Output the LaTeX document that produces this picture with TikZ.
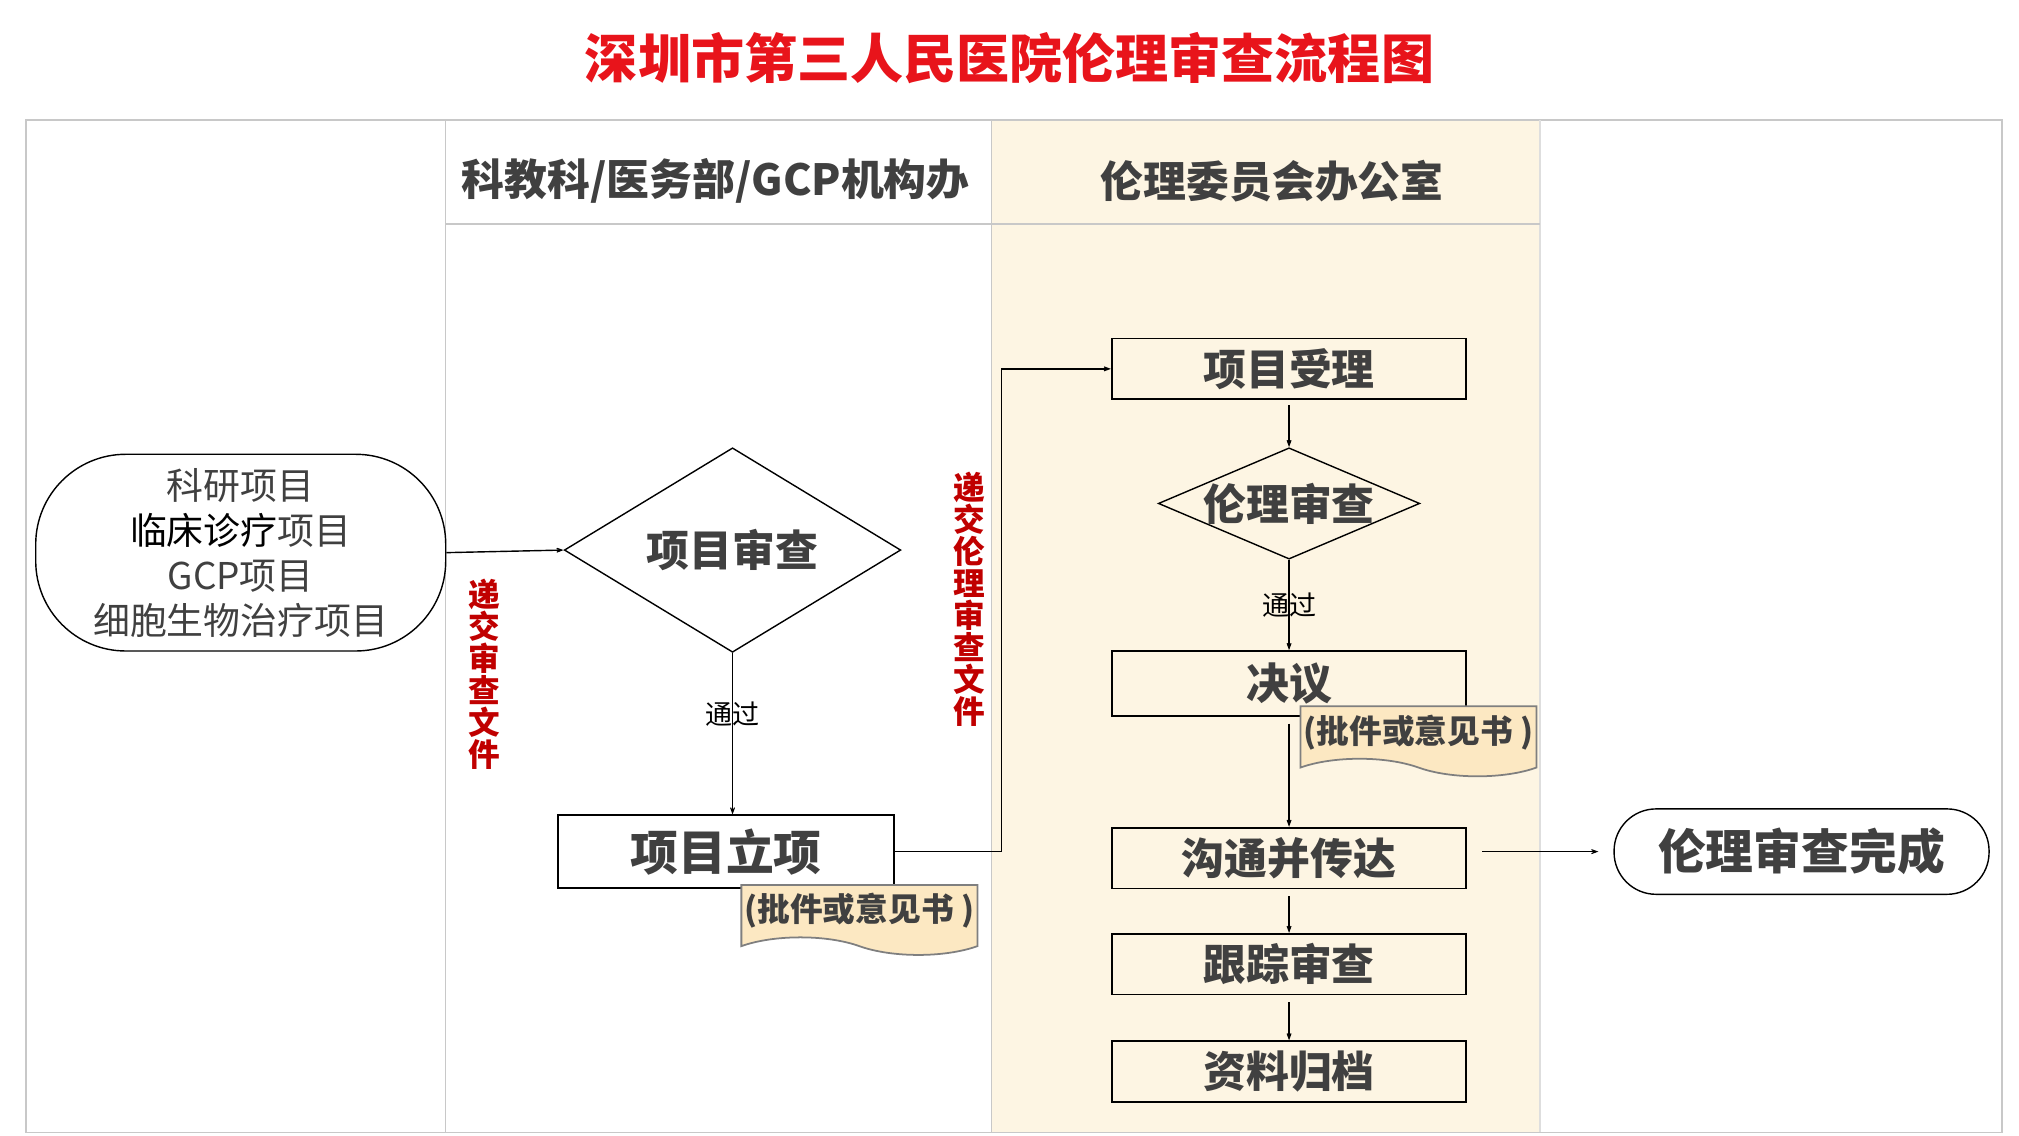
\documentclass[tikz,border=0pt]{standalone}
\usepackage{fontspec}
\usepackage{tikz}
\usetikzlibrary{shapes.geometric,shapes.symbols,arrows.meta}
\newfontfamily\cjk{Noto Sans CJK SC}
\definecolor{lanefill}{HTML}{FDF5E3}
\definecolor{framegray}{HTML}{C8C8C8}
\definecolor{txtgray}{HTML}{404040}
\definecolor{titlered}{HTML}{E8141B}
\definecolor{darkred}{HTML}{C00000}
\definecolor{docfill}{HTML}{FCE8C2}
\definecolor{docedge}{HTML}{7F7F7F}
\begin{document}
\begin{tikzpicture}[x=0.12942mm,y=0.12942mm]
\tikzstyle{every node}+=[inner sep=0pt,font=\cjk]
\tikzstyle{box}=[draw=black,line width=0.5pt,rectangle,minimum width=35.46mm,minimum height=6.08mm,text=txtgray,font=\cjk\bfseries\fontsize{12.2pt}{14pt}\selectfont]
\tikzstyle{dia}=[draw=black,line width=0.4pt,diamond,text=txtgray,font=\cjk\bfseries\fontsize{12.2pt}{14pt}\selectfont]
\tikzstyle{pijian}=[draw=docedge,fill=docfill,line width=0.5pt,tape,tape bend top=none,tape bend bottom=out and in,tape bend height=5pt,minimum width=23.6mm,minimum height=7mm,text=txtgray,font=\cjk\bfseries\fontsize{9.3pt}{11pt}\selectfont]
\tikzstyle{redv}=[text=darkred,align=center,font=\cjk\bfseries\fontsize{9pt}{9.1pt}\selectfont]
\tikzstyle{head}=[text=txtgray,font=\cjk\bfseries\fontsize{12.2pt}{14pt}\selectfont]
\tikzstyle{pass}=[text=black,font=\cjk\fontsize{7.7pt}{9pt}\selectfont]
\tikzstyle{arr}=[-{Stealth[length=1.5mm,width=1.1mm,inset=1.1mm]},line width=0.4pt,black]
\useasboundingbox (0,0) rectangle (1560,-877);
\fill [lanefill] (766,-93) rectangle (1190,-875);
\draw [framegray,line width=0.5pt] (20,-93) rectangle (1547,-875);
\draw [framegray,line width=0.4pt] (344,-93) -- (344,-875);
\draw [framegray,line width=0.4pt] (766,-93) -- (766,-875);
\draw [framegray!60,line width=0.4pt] (1190,-93) -- (1190,-875);
\draw [framegray,line width=0.4pt] (344,-173) -- (1190,-173);
\node [text=titlered,font=\cjk\bfseries\fontsize{15.1pt}{17pt}\selectfont] (title) at (780,-45) {深圳市第三人民医院伦理审查流程图};
\node [head] (lane1) at (553,-140) {科教科/医务部/GCP机构办};
\node [head] (lane2) at (983,-140) {伦理委员会办公室};
\node [draw=black,line width=0.4pt,rectangle,rounded corners=9mm,minimum width=41mm,minimum height=19.67mm,align=center,text=txtgray,font=\cjk\fontsize{10.5pt}{12.8pt}\selectfont] (xiangmu) at (186,-427) {科研项目\\{\color{black}临床诊疗}项目\\GCP项目\\细胞生物治疗项目};
\node [dia,minimum width=33.65mm,minimum height=20.45mm] (xmsc) at (566,-425) {\makebox[0pt]{项目审查}};
\node [box,minimum width=33.65mm,minimum height=7.25mm,fill=white,font=\cjk\bfseries\fontsize{13.6pt}{15pt}\selectfont] (lixiang) at (561,-658) {项目立项};
\node [pijian] (pj1) at (664,-704) {(批件或意见书 )};
\node [redv] (tj1) at (374,-521) {递\\交\\审\\查\\文\\件};
\node [redv] (tj2) at (749,-463) {递\\交\\伦\\理\\审\\查\\文\\件};
\node [box] (shouli) at (996,-285) {项目受理};
\node [dia,minimum width=26.14mm,minimum height=11.13mm] (lunli) at (996,-389) {\makebox[0pt]{伦理审查}};
\node [box,minimum height=6.47mm] (jueyi) at (996,-528) {决议};
\node [pijian] (pj2) at (1096,-566) {(批件或意见书 )};
\node [box] (goutong) at (996,-663) {沟通并传达};
\node [box] (genzong) at (996,-745) {跟踪审查};
\node [box] (guidang) at (996,-828) {资料归档};
\node [draw=black,line width=0.4pt,rectangle,rounded corners=4.2mm,minimum width=37.5mm,minimum height=8.54mm,fill=white,text=txtgray,font=\cjk\bfseries\fontsize{13.6pt}{15pt}\selectfont] (wancheng) at (1392,-658) {伦理审查完成};
\coordinate (turn) at (774,-658);
\draw [arr] (xiangmu.east) -- (xmsc.west);
\draw [arr] (xmsc.south) -- (xmsc.south |- lixiang.north) node [pass,pos=0.38] (tg1) {通过};
\draw [arr] (lixiang.east) -- (turn) |- (shouli.west);
\draw [arr,shorten <=0.5mm] (shouli.south) -- (lunli.north);
\draw [arr] (lunli.south) -- (jueyi.north) node [pass,midway] (tg2) {通过};
\draw [arr,shorten <=0.7mm] (jueyi.south) -- (goutong.north);
\draw [arr,shorten <=0.7mm] (goutong.south) -- (genzong.north);
\draw [arr,shorten <=0.7mm] (genzong.south) -- (guidang.north);
\draw [arr,shorten <=1.5mm,shorten >=1.5mm] (goutong.east |- wancheng.west) -- (wancheng.west);
\end{tikzpicture}
\end{document}
